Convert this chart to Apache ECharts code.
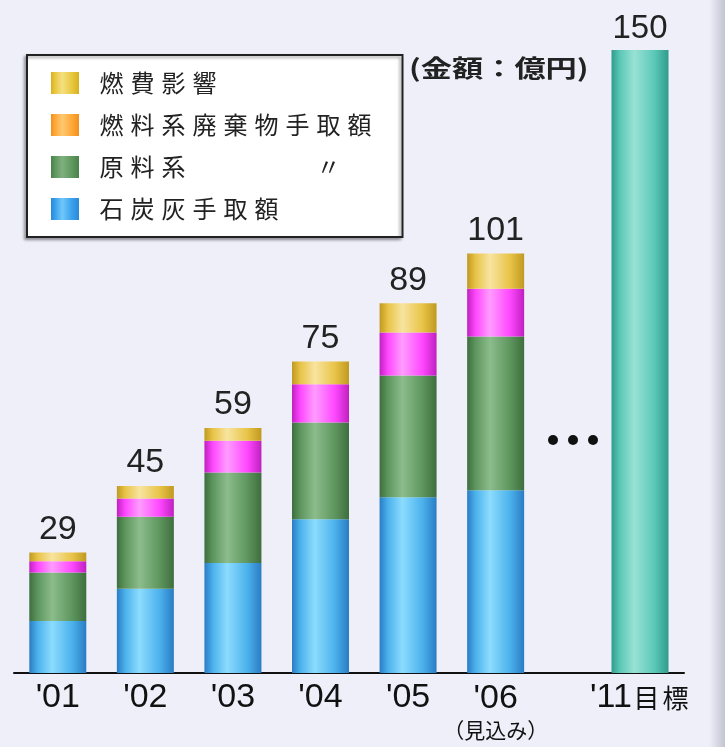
<!DOCTYPE html>
<html><head><meta charset="utf-8">
<script src="https://cdn.jsdelivr.net/npm/echarts@6/dist/echarts.min.js"></script>
<style>html,body{margin:0;padding:0;background:#efeffa;}#c{width:725px;height:747px;}</style>
</head><body><div id="c"></div>
<script>
const categories = ["'01", "'02", "'03", "'04", "'05", "'06", ""];
const targetCategory = ["'11目標"];
const coalAsh = [12.5, 20.3, 26.5, 37.0, 42.3, 44.0];
const rawMaterial = [11.7, 17.3, 21.8, 23.3, 29.3, 37.0];
const fuelWaste = [2.7, 4.4, 7.6, 9.2, 10.4, 11.5];
const fuelEffect = [2.1, 3.0, 3.1, 5.5, 7.0, 8.5];
const totals = [29, 45, 59, 75, 89, 101];
const target = [150];

const nameCoal = '石炭灰手取額';
const nameRaw = '原料系　　　　〃';
const nameWaste = '燃料系廃棄物手取額';
const nameEffect = '燃費影響';

function cyl(edge, mid, light) {
  return {type:'linear', x:0, y:0, x2:1, y2:0, colorStops:[
    {offset:0, color:edge},{offset:0.15, color:mid},{offset:0.4, color:light},
    {offset:0.75, color:mid},{offset:1, color:edge}]};
}
const font = "'Liberation Sans', Arial, sans-serif";
const jfont = "'Noto Sans CJK JP', sans-serif";
// widen each CJK glyph a little, like the wide font of the original
const wide = s => Array.from(s).map(ch => '{w|' + ch + '}').join('');

const chart = echarts.init(document.getElementById('c'));
chart.setOption({
  backgroundColor: '#efeffa',
  animation: false,
  grid: [
    {left: 14, right: 98, top: 50, bottom: 74},
    {left: 596, right: 41, top: 50, bottom: 74}
  ],
  xAxis: [
    {type:'category', data: categories, gridIndex:0,
     axisLine:{lineStyle:{color:'#111', width:2}}, axisTick:{show:false},
     axisLabel:{color:'#111', fontSize:34, fontFamily:font, margin:8, interval:0,
       formatter: v => v === "'06" ? "{a|'06}\n{b|（見込み）}" : v,
       rich:{a:{fontSize:34, fontFamily:font, color:'#111', lineHeight:36},
             b:{fontSize:21, fontFamily:jfont, color:'#111', lineHeight:26}}}},
    {type:'category', data: targetCategory, gridIndex:1,
     axisLine:{lineStyle:{color:'#111', width:2}}, axisTick:{show:false},
     axisLabel:{color:'#111', fontSize:34, fontFamily:font, margin:8,
       formatter: v => "{a|'11}" + wide('目標'),
       rich:{a:{fontSize:34, fontFamily:font, color:'#111'},
             w:{fontSize:26, fontFamily:jfont, color:'#111', padding:[0,1.5,0,1.5]}}}}
  ],
  yAxis: [
    {type:'value', gridIndex:0, min:0, max:150, show:false},
    {type:'value', gridIndex:1, min:0, max:150, show:false}
  ],
  legend: {
    orient:'vertical', left:27, top:55,
    backgroundColor:'#fff', borderColor:'#222', borderWidth:2, borderRadius:0,
    shadowColor:'rgba(0,0,0,0.35)', shadowBlur:3, shadowOffsetX:-2, shadowOffsetY:2,
    padding:[16, 31, 16, 24],
    itemWidth:28, itemHeight:22, itemGap:18,
    formatter: n => wide(n),
    textStyle:{fontSize:24, fontFamily:jfont, color:'#222', padding:[0,0,0,12],
      rich:{w:{fontSize:24, fontFamily:jfont, color:'#222', padding:[0,3.5,0,3.5]}}},
    icon:'rect',
    data:[
      {name:nameEffect, itemStyle:{color:cyl('#d9b020','#e8c840','#f5e080')}},
      {name:nameWaste, itemStyle:{color:cyl('#f09020','#ffa838','#ffc870')}},
      {name:nameRaw, itemStyle:{color:cyl('#4a824a','#5e985e','#7fb07f')}},
      {name:nameCoal, itemStyle:{color:cyl('#2a88d8','#3aa0ec','#70c8f8')}}
    ]
  },
  graphic: [
    {type:'rect', right:0, top:0, shape:{width:16, height:747}, silent:true,
     style:{fill:{type:'linear', x:0, y:0, x2:1, y2:0, colorStops:[{offset:0,color:'#efeffa'},{offset:1,color:'#c4c4d2'}]}}},
    {type:'text', x:409, y:68, scaleX:1.3, style:{text:'(金額：億円)', fontSize:24, fontWeight:'bold', fontFamily:jfont, fill:'#222', verticalAlign:'middle'}},
    {type:'circle', shape:{cx:553, cy:440, r:5}, style:{fill:'#111'}},
    {type:'circle', shape:{cx:573, cy:440, r:5}, style:{fill:'#111'}},
    {type:'circle', shape:{cx:593, cy:440, r:5}, style:{fill:'#111'}}
  ],
  series: [
    {name:nameCoal, type:'bar', stack:'a', xAxisIndex:0, yAxisIndex:0, barWidth:57, data:coalAsh,
     itemStyle:{color:cyl('#2a7cc4','#4cb2ec','#8cdcfe')}},
    {name:nameRaw, type:'bar', stack:'a', xAxisIndex:0, yAxisIndex:0, barWidth:57, data:rawMaterial,
     itemStyle:{color:cyl('#3e6e3e','#5e965e','#8cbc8c')}},
    {name:nameWaste, type:'bar', stack:'a', xAxisIndex:0, yAxisIndex:0, barWidth:57, data:fuelWaste,
     itemStyle:{color:cyl('#c020c0','#ff48ff','#ff9cff')}},
    {name:nameEffect, type:'bar', stack:'a', xAxisIndex:0, yAxisIndex:0, barWidth:57, data:fuelEffect,
     itemStyle:{color:cyl('#c09a20','#e8c448','#f8e4a0')},
     label:{show:true, position:'top', distance:6, color:'#222', fontSize:34, fontFamily:font,
       formatter: p => totals[p.dataIndex]}},
    {name:'目標', type:'bar', xAxisIndex:1, yAxisIndex:1, barWidth:57, data:target,
     itemStyle:{color:cyl('#2e9c8c','#5cc8b8','#98e2d4')},
     label:{show:true, position:'top', distance:5, color:'#222', fontSize:33, fontFamily:font}}
  ]
});
</script></body></html>
